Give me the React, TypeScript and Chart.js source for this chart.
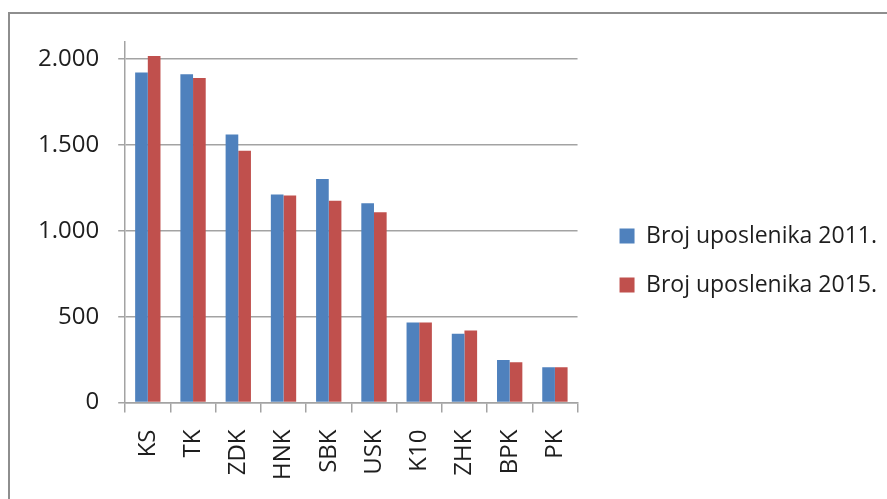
import React, { useEffect, useRef } from "react";
import { Chart, registerables } from "chart.js";

Chart.register(...registerables);

const categories = ["KS", "TK", "ZDK", "HNK", "SBK", "USK", "K10", "ZHK", "BPK", "PK"];
const seriesNames = ["Broj uposlenika 2011.", "Broj uposlenika 2015."];
const values2011 = [1923, 1912, 1561, 1212, 1302, 1160, 466, 400, 248, 205];
const values2015 = [2019, 1890, 1467, 1206, 1175, 1108, 466, 420, 234, 205];
const yTicks = [0, 500, 1000, 1500, 2000];
const yTickLabels = ["0", "500", "1.000", "1.500", "2.000"];
const Y_MAX = 2100;

const FONT = "'Open Sans', 'Noto Sans', sans-serif";
const TEXT = "#1e1e1e";
const GRID = "#a3a3a3";

const LEG_DX = 16;
const LEG_DY = -10;
const X_AXIS_H = 96.5;

const legendShift = {
  id: "legendShift",
  afterLayout(chart: any) {
    const l = chart.legend;
    if (!l) return;
    l.left += LEG_DX;
    l.right += LEG_DX;
    l.top += LEG_DY;
    l.bottom += LEG_DY;
  },
};

export default function App() {
  const ref = useRef<HTMLCanvasElement | null>(null);

  useEffect(() => {
    if (!ref.current) return;
    const chart = new Chart(ref.current, {
      type: "bar",
      data: {
        labels: categories,
        datasets: [
          {
            label: seriesNames[0],
            data: values2011,
            backgroundColor: "#4f81bd",
            borderWidth: 0,
          },
          {
            label: seriesNames[1],
            data: values2015,
            backgroundColor: "#c0504d",
            borderWidth: 0,
          },
        ],
      },
      options: {
        responsive: false,
        animation: false,
        devicePixelRatio: 1,
        layout: { padding: { left: 19, right: 16, top: 42, bottom: 0 } },
        datasets: {
          bar: { categoryPercentage: 0.56, barPercentage: 1 },
        },
        plugins: {
          tooltip: { enabled: false },
          legend: {
            position: "right",
            align: "center",
            maxWidth: 400,
            labels: {
              boxWidth: 15,
              boxHeight: 15,
              padding: 26,
              color: TEXT,
              font: { family: FONT, size: 23 },
            },
          },
        },
        scales: {
          x: {
            afterFit: (scale: any) => {
              scale.height = X_AXIS_H;
            },
            grid: {
              offset: true,
              drawOnChartArea: false,
              drawTicks: true,
              tickLength: 10,
              color: GRID,
              lineWidth: 1.5,
            },
            border: { display: true, color: GRID, width: 1.5 },
            ticks: {
              color: TEXT,
              font: { family: FONT, size: 24 },
              minRotation: 90,
              maxRotation: 90,
              padding: 17,
            },
          },
          y: {
            min: 0,
            max: Y_MAX,
            afterBuildTicks: (scale: any) => {
              scale.ticks = yTicks.map((v) => ({ value: v }));
            },
            grid: {
              color: GRID,
              lineWidth: 1.5,
              drawTicks: true,
              tickLength: 7,
            },
            border: { display: true, color: GRID, width: 1.5 },
            ticks: {
              color: TEXT,
              font: { family: FONT, size: 24 },
              padding: 19,
              callback: (value: any) => {
                const i = yTicks.indexOf(Number(value));
                return i >= 0 ? yTickLabels[i] : "";
              },
            },
          },
        },
      },
      plugins: [legendShift],
    });
    return () => chart.destroy();
  }, []);

  return (
    <div
      style={{
        position: "fixed",
        left: 0,
        top: 0,
        width: 887,
        height: 499,
        background: "#fff",
        overflow: "hidden",
      }}
    >
      <div
        style={{
          position: "absolute",
          left: 8,
          top: 12,
          width: 1000,
          height: 1000,
          borderLeft: "2px solid #8e8e8e",
          borderTop: "2px solid #8e8e8e",
        }}
      />
      <canvas
        ref={ref}
        width={887}
        height={499}
        style={{ position: "absolute", left: 0, top: 0, width: 887, height: 499 }}
      />
    </div>
  );
}
